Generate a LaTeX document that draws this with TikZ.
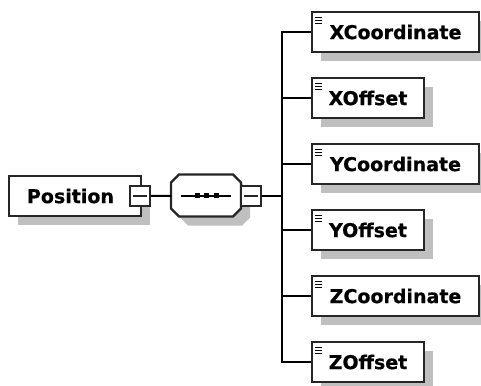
\documentclass[tikz,border=0pt]{standalone}
\usepackage{fontspec}
\setmainfont{DejaVu Sans}[BoldFeatures={FakeBold=0.6}]
\usetikzlibrary{shapes,shadows,positioning,calc}

\begin{document}
\begin{tikzpicture}[x=1pt, y=-1pt, line width=2pt]
  \tikzstyle{element}=[rectangle, draw=black!85, fill=white, line width=2.2pt, minimum height=40pt, inner sep=0pt, font=\bfseries\fontsize{19}{19}\selectfont, drop shadow={shadow xshift=9pt, shadow yshift=-9pt, fill=black!25, opacity=1}]
  \tikzstyle{frame}=[rectangle, minimum width=68pt, minimum height=40pt, inner sep=0pt]
  \tikzstyle{octshadow}=[fill=black!25]
  \tikzstyle{octline}=[fill=white, draw=black!85, line width=2.2pt]
  \tikzstyle{collapse}=[rectangle, draw=black!85, fill=white, line width=2pt, minimum size=20pt, inner sep=0pt, path picture={\draw[line width=1.8pt] ([xshift=3pt]path picture bounding box.west) -- ([xshift=-3pt]path picture bounding box.east);}]
  \useasboundingbox (0,0) rectangle (481,385);

  % Root element
  \node[element, text width=96pt, inner xsep=18pt, align=left] (pos) at (75,196) {Position};

  % Sequence (octagon with its shadow)
  \node[frame] (seq) at (206,195.5) {};
  \foreach \sx/\sy/\st in {9/-9/octshadow, 0/0/octline}
    \path[style=\st] ([shift={(8pt+\sx pt,\sy pt)}]seq.north west) -- ([shift={(-8pt+\sx pt,\sy pt)}]seq.north east)
      -- ([shift={(\sx pt,-8pt+\sy pt)}]seq.north east) -- ([shift={(\sx pt,8pt+\sy pt)}]seq.south east)
      -- ([shift={(-8pt+\sx pt,\sy pt)}]seq.south east) -- ([shift={(8pt+\sx pt,\sy pt)}]seq.south west)
      -- ([shift={(\sx pt,8pt+\sy pt)}]seq.south west) -- ([shift={(\sx pt,-8pt+\sy pt)}]seq.north west) -- cycle;
  \draw ([xshift=10pt]seq.west) -- ([xshift=-10pt]seq.east);
  \foreach \dx in {-9,0,10}
    \fill ([xshift=\dx pt]seq.center) ++(-2.5,-2.5) rectangle ++(5,5);

  % Collapse buttons
  \node[collapse] (posminus) at (140,196) {};
  \node[collapse] (seqminus) at (250.5,196) {};

  % Child elements
  \coordinate (fork) at (282,196);
  \node[element, minimum width=167pt] (xcoord) at (395.5,32) {XCoordinate};
  \node[element, minimum width=112pt] (xoff) at (368,98) {XOffset};
  \node[element, minimum width=167pt] (ycoord) at (395.5,164) {YCoordinate};
  \node[element, minimum width=112pt] (yoff) at (368,230) {YOffset};
  \node[element, minimum width=167pt] (zcoord) at (395.5,296) {ZCoordinate};
  \node[element, minimum width=112pt] (zoff) at (368,362) {ZOffset};

  % Connections
  \draw (posminus) -- (seq);
  \draw (seqminus) -- (fork);
  \foreach \n in {xcoord,xoff,ycoord,yoff,zcoord,zoff} {
    \draw (fork) |- (\n);
    \foreach \dy in {6.5,9.5,12.5}
      \draw[line width=1.5pt] ([xshift=4pt,yshift=-\dy pt]\n.north west) -- ++(7,0);
  }
\end{tikzpicture}
\end{document}
